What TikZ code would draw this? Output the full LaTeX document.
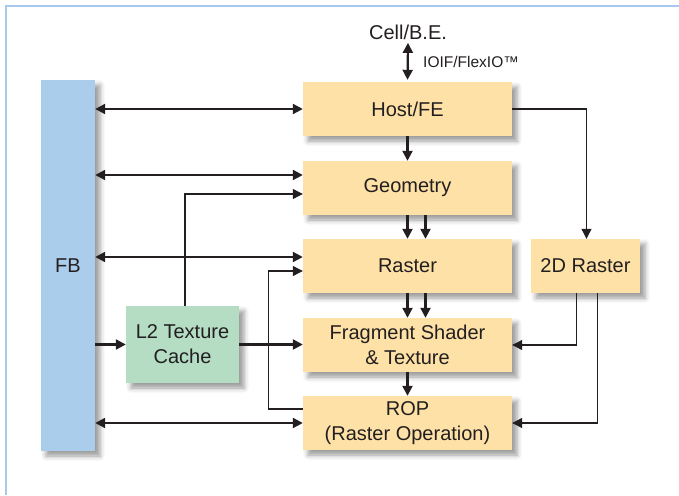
\documentclass[tikz,border=0pt]{standalone}
\usepackage{fontspec}
\setmainfont{Liberation Sans}
\usetikzlibrary{arrows.meta,shadows.blur}

\definecolor{boxorange}{RGB}{253,225,166}
\definecolor{boxgreen}{RGB}{180,221,196}
\definecolor{boxblue}{RGB}{171,205,236}
\definecolor{frameblue}{RGB}{168,200,238}
\definecolor{ink}{RGB}{35,31,32}

\tikzset{
  shade box/.style={blur shadow={shadow xshift=5pt, shadow yshift=-5pt,
      shadow blur radius=5pt, shadow opacity=40}},
  block/.style={shade box, fill=boxorange, text=ink, align=center,
      minimum width=209pt, minimum height=54pt, inner sep=0pt},
  cache/.style={shade box, fill=boxgreen, text=ink, align=center,
      minimum width=113pt, minimum height=77pt, inner sep=0pt},
  fbbar/.style={shade box, fill=boxblue, text=ink,
      minimum width=54pt, minimum height=371pt, inner sep=0pt},
  bus/.style={draw=ink, line width=2.2pt, <->},
  link/.style={draw=ink, line width=1.1pt, ->},
  feed/.style={draw=ink, line width=2.2pt, ->}
}

\begin{document}
\begin{tikzpicture}[x=1pt,y=-1pt, font=\fontsize{20}{25}\selectfont,
    >={Triangle[length=10pt,width=10pt]}]
  \useasboundingbox (0,0) rectangle (679,495);

  % Frame
  \draw[frameblue, line width=2pt] (5.5,495) -- (5.5,6) -- (679,6);

  % Blocks
  \node[fbbar] (fb) at (68,265.5) {FB};
  \node[block] (host) at (407.5,109) {Host/FE};
  \node[block] (geom) at (407.5,188) {Geometry};
  \node[block] (raster) at (407.5,266) {Raster};
  \node[block] (frag) at (407.5,345) {Fragment Shader\\\& Texture};
  \node[block] (rop) at (407.5,423) {ROP\\(Raster Operation)};
  \node[block, minimum width=109pt] (raster2d) at (585.5,266) {2D Raster};
  \node[cache] (l2) at (182.5,344.5) {L2 Texture\\Cache};

  % Cell interface
  \node[text=ink] (cell) at (408,32) {Cell/B.E.};
  \node[text=ink, anchor=west, inner sep=0pt, font=\fontsize{15.5}{18}\selectfont]
    (ioif) at (423,62) {IOIF/FlexIO™};
  \draw[bus, shorten >=2pt] (cell.south) -- (host.north);

  % FB buses
  \draw[bus] (host.west -| fb.east) -- (host.west);
  \draw[bus] ([yshift=13pt]geom.west -| fb.east) -- ([yshift=13pt]geom.west);
  \draw[bus] ([yshift=9pt]raster.west -| fb.east) -- ([yshift=9pt]raster.west);
  \draw[bus] (rop.west -| fb.east) -- (rop.west);
  \draw[feed] (l2.west -| fb.east) -- (l2.west);
  \draw[feed] (l2.east) -- (l2.east -| frag.west);

  % Pipeline
  \draw[feed] (host.south) -- (geom.north);
  \draw[feed] (geom.south) -- (raster.north);
  \draw[feed] ([xshift=18pt]geom.south) -- ([xshift=18pt]raster.north);
  \draw[feed] (raster.south) -- (frag.north);
  \draw[feed] ([xshift=18pt]raster.south) -- ([xshift=18pt]frag.north);
  \draw[feed] (frag.south) -- (rop.north);

  % Side paths
  \draw[link] ([xshift=2.5pt]l2.north) |- ([yshift=-6pt]geom.west);
  \draw[link] ([yshift=14pt]rop.west) -- ++(-34,0) |- ([yshift=-5pt]raster.west);
  \draw[link] (host.east) -| ([xshift=1pt]raster2d.north);
  \draw[link] ([xshift=-9pt]raster2d.south) |- (frag.east);
  \draw[link] ([xshift=12pt]raster2d.south) |- (rop.east);
\end{tikzpicture}
\end{document}
